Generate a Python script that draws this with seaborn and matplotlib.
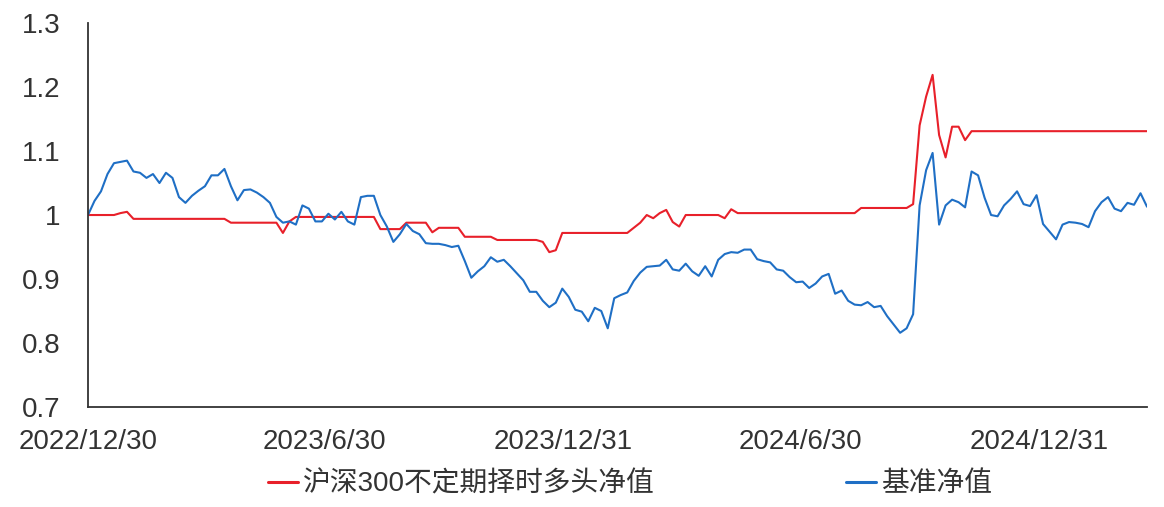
import pandas as pd
import matplotlib
matplotlib.use('Agg')
import matplotlib.pyplot as plt
import seaborn as sns

# style first, fonts after (set_style resets font.family)
sns.set_style('white')
plt.rcParams['font.family'] = ['Liberation Sans', 'Noto Sans CJK SC']

# --- data (one value every 5 calendar days from 2022/12/30) ---
start_date = '2022-12-30'
series_names = ['沪深300不定期择时多头净值', '基准净值']

timing_nav = [
    1.000, 1.000, 1.000, 1.000, 1.000, 1.003, 1.005, 0.994, 0.994, 0.994,
    0.994, 0.994, 0.994, 0.994, 0.994, 0.994, 0.994, 0.994, 0.994, 0.994,
    0.994, 0.994, 0.988, 0.988, 0.988, 0.988, 0.988, 0.988, 0.988, 0.988,
    0.972, 0.990, 0.997, 0.997, 0.997, 0.997, 0.997, 0.997, 0.997, 0.997,
    0.997, 0.997, 0.997, 0.997, 0.997, 0.978, 0.978, 0.978, 0.978, 0.988,
    0.988, 0.988, 0.988, 0.973, 0.980, 0.980, 0.980, 0.980, 0.966, 0.966,
    0.966, 0.966, 0.966, 0.961, 0.961, 0.961, 0.961, 0.961, 0.961, 0.961,
    0.958, 0.942, 0.945, 0.972, 0.972, 0.972, 0.972, 0.972, 0.972, 0.972,
    0.972, 0.972, 0.972, 0.972, 0.980, 0.988, 1.000, 0.995, 1.003, 1.008,
    0.989, 0.982, 1.000, 1.000, 1.000, 1.000, 1.000, 1.000, 0.995, 1.009,
    1.003, 1.003, 1.003, 1.003, 1.003, 1.003, 1.003, 1.003, 1.003, 1.003,
    1.003, 1.003, 1.003, 1.003, 1.003, 1.003, 1.003, 1.003, 1.003, 1.011,
    1.011, 1.011, 1.011, 1.011, 1.011, 1.011, 1.011, 1.017, 1.140, 1.185,
    1.219, 1.125, 1.090, 1.138, 1.138, 1.117, 1.131, 1.131, 1.131, 1.131,
    1.131, 1.131, 1.131, 1.131, 1.131, 1.131, 1.131, 1.131, 1.131, 1.131,
    1.131, 1.131, 1.131, 1.131, 1.131, 1.131, 1.131, 1.131, 1.131, 1.131,
    1.131, 1.131, 1.131, 1.131,
]

bench_nav = [
    1.000, 1.022, 1.037, 1.064, 1.081, 1.083, 1.085, 1.068, 1.066, 1.058,
    1.064, 1.050, 1.066, 1.058, 1.028, 1.019, 1.030, 1.038, 1.045, 1.062,
    1.062, 1.072, 1.045, 1.023, 1.039, 1.040, 1.035, 1.028, 1.019, 0.997,
    0.988, 0.990, 0.985, 1.015, 1.010, 0.990, 0.990, 1.002, 0.993, 1.005,
    0.990, 0.985, 1.028, 1.030, 1.030, 1.000, 0.982, 0.958, 0.970, 0.986,
    0.975, 0.970, 0.956, 0.955, 0.955, 0.953, 0.950, 0.952, 0.928, 0.902,
    0.912, 0.920, 0.934, 0.927, 0.930, 0.920, 0.909, 0.898, 0.880, 0.880,
    0.866, 0.856, 0.863, 0.885, 0.872, 0.852, 0.849, 0.834, 0.855, 0.850,
    0.823, 0.870, 0.875, 0.879, 0.897, 0.910, 0.919, 0.920, 0.921, 0.930,
    0.915, 0.913, 0.924, 0.912, 0.905, 0.920, 0.904, 0.930, 0.939, 0.942,
    0.941, 0.946, 0.946, 0.931, 0.928, 0.926, 0.915, 0.913, 0.903, 0.895,
    0.896, 0.886, 0.893, 0.904, 0.908, 0.877, 0.882, 0.866, 0.860, 0.859,
    0.864, 0.856, 0.858, 0.842, 0.829, 0.816, 0.823, 0.845, 1.015, 1.070,
    1.097, 0.985, 1.015, 1.024, 1.020, 1.012, 1.068, 1.062, 1.027, 1.000,
    0.998, 1.015, 1.025, 1.037, 1.017, 1.014, 1.031, 0.986, 0.974, 0.962,
    0.985, 0.989, 0.988, 0.986, 0.981, 1.006, 1.020, 1.028, 1.010, 1.006,
    1.019, 1.016, 1.034, 1.013,
]

tick_dates = ['2022-12-30', '2023-06-30', '2023-12-31', '2024-06-30', '2024-12-31']
tick_labels = ['2022/12/30', '2023/6/30', '2023/12/31', '2024/6/30', '2024/12/31']
y_ticks = [0.7, 0.8, 0.9, 1.0, 1.1, 1.2, 1.3]
y_labels = ['0.7', '0.8', '0.9', '1', '1.1', '1.2', '1.3']

line_colors = ['#E8202A', '#1F6FC5']

# --- build long table for seaborn ---
dates = pd.date_range(start_date, periods=len(bench_nav), freq='5D')
df = pd.DataFrame({'date': dates, series_names[0]: timing_nav, series_names[1]: bench_nav})
df_long = df.melt(id_vars='date', var_name='series', value_name='nav')

# --- plot ---
fig, ax = plt.subplots(figsize=(11.64, 5.07), dpi=100)
fig.subplots_adjust(left=0.0756, right=0.9854, top=0.9546, bottom=0.1972)

sns.lineplot(data=df_long, x='date', y='nav', hue='series', hue_order=series_names,
             palette=line_colors, linewidth=1.5, ax=ax)

ax.set_xlim(dates[0], dates[-1])
ax.set_ylim(0.7, 1.3)
ax.set_xticks(pd.to_datetime(tick_dates))
ax.set_xticklabels(tick_labels)
ax.set_yticks(y_ticks)
ax.set_yticklabels(y_labels)
ax.set_xlabel('')
ax.set_ylabel('')

for side in ['top', 'right']:
    ax.spines[side].set_visible(False)
for side in ['left', 'bottom']:
    ax.spines[side].set_color('#333333')
    ax.spines[side].set_linewidth(1.3)

ax.tick_params(axis='both', direction='in', labelsize=20, colors='#333333', width=1.2)
ax.tick_params(axis='x', length=9, pad=16)
ax.tick_params(axis='y', length=6, pad=20)

handles, labels = ax.get_legend_handles_labels()
for h in handles:
    h.set_linewidth(2.2)
ax.legend(handles, labels, loc='center', bbox_to_anchor=(0.541, 0.045),
          bbox_transform=fig.transFigure, ncol=2, frameon=False, fontsize=20,
          handlelength=1.1, handletextpad=0.15, columnspacing=6.9, labelcolor='#333333')

fig.savefig('out.png', dpi=100)
